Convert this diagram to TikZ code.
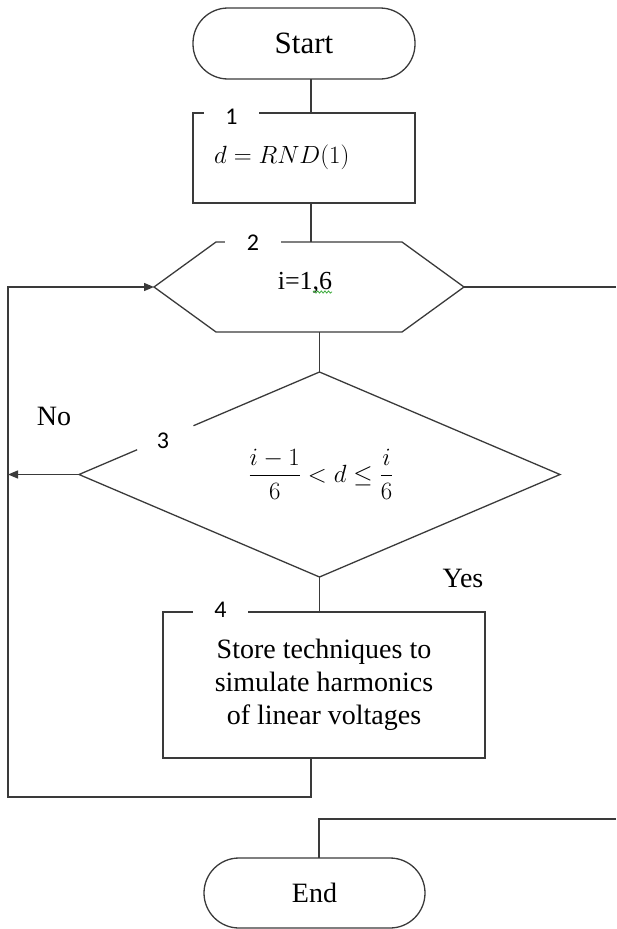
\documentclass[tikz,border=0pt]{standalone}
\usepackage{amsmath}
\usepackage{fontspec}
\setmainfont{Liberation Serif}
\newfontfamily\labelfont{Carlito}
\usetikzlibrary{arrows.meta,decorations.pathmorphing,calc}
\definecolor{linegray}{HTML}{3A3A3A}
\definecolor{spellgreen}{HTML}{3DAA3D}

\begin{document}
\begin{tikzpicture}[x=1pt,y=-1pt,
  line/.style={draw=linegray,line width=1.3pt},
  arrowline/.style={line,-{Triangle[length=10pt,width=8pt]}},
  frame/.style={inner sep=0pt,outer sep=0pt},
  terminal/.style={frame,line,rounded corners=35pt},
  procbox/.style={frame,line},
  numfont/.style={font=\labelfont\fontsize{24}{28}\selectfont},
  numlabel/.style={numfont,fill=white,inner ysep=1pt},
  maintext/.style={font=\fontsize{28}{33}\selectfont},
]
\useasboundingbox (0,0) rectangle (616,929);

% terminators
\node[terminal,minimum width=222pt,minimum height=71pt] (start) at (304,43.5)
  {\fontsize{31}{36}\selectfont Start};
\node[terminal,minimum width=221pt,minimum height=70pt] (stop) at (314.5,893)
  {\fontsize{28}{34}\selectfont End};

% block 1
\node[procbox,minimum width=222pt,minimum height=90pt] (b1) at (304,158) {};
\node[anchor=west,inner sep=0pt] (b1text) at (214,157)
  {\fontsize{24}{28}\selectfont $d=RND(1)$};

% block 2: loop header (hexagon)
\node[frame,minimum width=310pt,minimum height=90pt] (hex) at (309,287) {};
\draw[line] (hex.west) -- ($(hex.north west)+(62,0)$) -- ($(hex.north east)+(-62,0)$)
  -- (hex.east) -- ($(hex.south east)+(-62,0)$) -- ($(hex.south west)+(62,0)$) -- cycle;
\node[inner sep=0pt] (hextext) at (305,283) {\fontsize{26}{30}\selectfont i=1,6};
\draw[spellgreen,line width=0.8pt,decorate,
  decoration={snake,amplitude=1.1pt,segment length=3.6pt}] (313,292) -- (332,292);

% block 3: condition (diamond)
\node[frame,minimum width=481pt,minimum height=205pt] (dia) at (319.5,474.5) {};
\draw[line] (dia.west) -- (dia.north) -- (dia.east) -- (dia.south) -- cycle;
\node[inner sep=0pt] (cond) at (321,474)
  {\fontsize{24}{28}\selectfont $\dfrac{i-1}{6}<d\le\dfrac{i}{6}$};

% block 4
\node[procbox,minimum width=322pt,minimum height=146pt,align=center,maintext]
  (b4) at (324,685) {Store techniques to\\simulate harmonics\\of linear voltages};

% numbered labels sitting in gaps of the outlines
\node[numlabel,minimum width=55pt] (n1) at (231.5,117) {1};
\node[numlabel,minimum width=56pt] (n2) at (253,243) {2};
\node[numlabel,minimum width=55pt] (n4) at (220.5,610) {4};
\node[fill=white,minimum width=61pt,minimum height=5pt,inner sep=0pt,rotate=23] (g3) at (165,437) {};
\node[numfont,inner sep=0pt] (n3) at (163,441) {3};

% branch labels
\node[maintext,inner sep=0pt] (no) at (54,416) {No};
\node[maintext,inner sep=0pt] (yes) at (463,578) {Yes};

% routing helpers
\coordinate (spine) at (311,0);
\coordinate (rail) at (8,797);
\coordinate (rightedge) at (616,0);
\coordinate (endfeed) at (616,819);
\coordinate (endjoin) at (319,819);

% connectors
\draw[line] (start.south -| spine) -- (b1.north -| spine);
\draw[line] (b1.south -| spine) -- (hex.north -| spine);
\draw[line] (hex.south -| dia.north) -- (dia.north);
\draw[line] (dia.south) -- (b4.north -| dia.south);
\draw[arrowline] (b4.south -| spine) |- (rail) |- (hex.west);
\draw[arrowline] (dia.west) -- (dia.west -| rail);
\draw[line] (hex.east) -- (hex.east -| rightedge);
\draw[line] (endfeed) -- (endjoin) -- (endjoin |- stop.north);
\end{tikzpicture}
\end{document}
